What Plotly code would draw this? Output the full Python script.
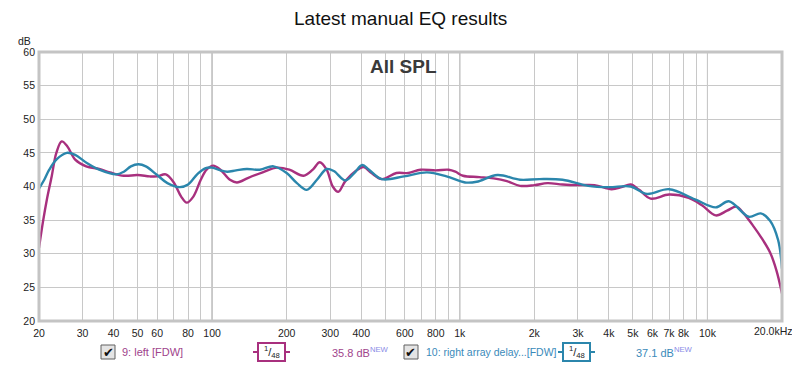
import plotly.graph_objects as go

# ---------------- data ----------------
left_freq = [20, 20.8, 21.5, 22.5, 23.5, 24.7, 26, 28, 31, 35, 38.7, 44, 50, 56, 60, 65, 70, 75, 79, 84,
             90, 95, 101, 108, 118, 126, 140, 160, 183, 205, 234, 255, 272, 290, 307, 323, 345, 380,
             409, 440, 484, 555, 620, 694, 800, 902, 960, 1030, 1200, 1370, 1550, 1750, 2000, 2260,
             2600, 3000, 3500, 4100, 4500, 4900, 5300, 5900, 7000, 8400, 9500, 10800, 12000, 13100,
             14000, 15400, 16500, 17900, 19000, 20000]
left_db = [30.9, 35.0, 38.0, 41.5, 45.0, 46.7, 46.0, 44.0, 43.0, 42.6, 42.1, 41.6, 41.7, 41.5, 41.5, 41.8,
           40.6, 38.5, 37.6, 38.5, 41.0, 42.5, 43.1, 42.5, 41.0, 40.6, 41.3, 42.1, 42.8, 42.5, 41.6, 42.5,
           43.6, 42.5, 40.0, 39.2, 40.8, 42.3, 42.9, 42.0, 41.1, 42.0, 42.0, 42.5, 42.4, 42.5, 42.2, 41.6,
           41.4, 41.2, 40.8, 40.1, 40.2, 40.5, 40.3, 40.2, 40.2, 39.6, 39.9, 40.3, 39.5, 38.2, 38.8, 38.3,
           37.2, 35.7, 36.4, 37.0, 36.0, 34.0, 32.4, 30.2, 27.5, 24.1]

right_freq = [20, 21, 22, 23.5, 25.9, 28, 31.2, 35, 41, 44, 47, 50.4, 54, 60, 66, 74, 80, 87, 93.7, 100,
              108, 115, 125, 138, 156, 177, 200, 220, 241, 265, 290, 310, 345, 375, 404, 430, 484, 595,
              737, 884, 1050, 1170, 1420, 1750, 2100, 2600, 3300, 4000, 4900, 5700, 7000, 8900, 10800,
              12200, 14700, 16400, 17900, 19300, 20000]
right_db = [39.7, 41.0, 42.5, 44.0, 45.0, 44.7, 43.5, 42.5, 41.8, 42.2, 43.0, 43.3, 43.0, 41.7, 40.5, 39.9,
            40.3, 41.8, 42.7, 42.8, 42.4, 42.2, 42.4, 42.6, 42.5, 43.0, 42.0, 40.5, 39.5, 41.0, 42.6, 42.3,
            40.9, 42.0, 43.2, 42.5, 41.1, 41.5, 42.1, 41.5, 40.6, 40.7, 41.7, 41.0, 41.1, 41.0, 40.1, 39.9,
            40.0, 38.9, 39.6, 38.1, 36.9, 37.8, 35.5, 36.0, 34.9, 32.0, 27.8]

x_tickvals = [20, 30, 40, 50, 60, 70, 80, 90, 100, 200, 300, 400, 500, 600, 700, 800, 900,
              1000, 2000, 3000, 4000, 5000, 6000, 7000, 8000, 9000, 10000, 20000]
x_ticktext = ["20", "30", "40", "50", "60", "", "80", "", "100", "200", "300", "400", "", "600", "",
              "800", "", "1k", "2k", "3k", "4k", "5k", "6k", "7k", "8k", "", "10k", ""]
last_tick_label = "20.0kHz"
y_tickvals = [20, 25, 30, 35, 40, 45, 50, 55, 60]
decades = [100, 1000, 10000]

MAG = "#A8307E"
BLU = "#2B86AC"
MAG_T = "#A0448C"
BLU_T = "#3A8ABA"
TICK_FS = 10.5

# ---------------- figure ----------------
OFF = 8  # page body margin
W, H = 800 - OFF, 369 - OFF
PW, PH = 743, 269
L, T = 39 - OFF, 52 - OFF
R, B = W - L - PW, H - T - PH


def px(x):
    return (x - OFF - L) / PW


def py(y):
    return (H - B - (y - OFF)) / PH


fig = go.Figure()
fig.add_trace(go.Scatter(x=left_freq, y=left_db, mode="lines",
                         line=dict(color=MAG, width=2.4, shape="spline", smoothing=1.0),
                         hoverinfo="skip", showlegend=False))
fig.add_trace(go.Scatter(x=right_freq, y=right_db, mode="lines",
                         line=dict(color=BLU, width=2.4, shape="spline", smoothing=1.0),
                         hoverinfo="skip", showlegend=False))

shapes = []
for d in decades:
    shapes.append(dict(type="line", xref="x", yref="paper", x0=d, x1=d, y0=0, y1=1,
                       line=dict(color="#808080", width=1), layer="below"))
# frame
shapes.append(dict(type="rect", xref="paper", yref="paper", x0=0, x1=1, y0=0, y1=1,
                   line=dict(color="#C4C4C4", width=3)))

annotations = [
    dict(text="Latest manual EQ results", xref="paper", yref="paper", x=px(400), y=py(19),
         showarrow=False, font=dict(size=19, color="#111111", family="Liberation Sans, Arial"),
         xanchor="center", yanchor="middle"),
    dict(text="<b>All SPL</b>", xref="paper", yref="paper", x=px(403), y=py(67),
         showarrow=False, font=dict(size=19, color="#3A3A3A", family="Liberation Sans, Arial"),
         xanchor="center", yanchor="middle"),
    dict(text="dB", xref="paper", yref="paper", x=px(33), y=py(41),
         showarrow=False, font=dict(size=TICK_FS, color="#222222", family="Liberation Sans, Arial"),
         xanchor="right", yanchor="middle"),
    dict(text=last_tick_label, xref="paper", yref="paper", x=px(795), y=py(331),
         showarrow=False, font=dict(size=TICK_FS, color="#222222", family="Liberation Sans, Arial"),
         xanchor="right", yanchor="middle"),
]

LY = 352


def legend_item(cb_x, label, label_x, color, tcolor, box_x, val, val_x, fsize=11):
    # checkbox
    shapes.append(dict(type="rect", xref="paper", yref="paper",
                       x0=px(cb_x), x1=px(cb_x + 14), y0=py(LY + 7), y1=py(LY - 7),
                       line=dict(color="#606060", width=1), fillcolor="#E4E4E4"))
    annotations.append(dict(text="✔", xref="paper", yref="paper", x=px(cb_x + 7), y=py(LY),
                            showarrow=False, font=dict(size=13, color="#111111", family="DejaVu Sans"),
                            xanchor="center", yanchor="middle"))
    annotations.append(dict(text=label, xref="paper", yref="paper", x=px(label_x), y=py(LY),
                            showarrow=False, font=dict(size=fsize, color=tcolor, family="Liberation Sans, Arial"),
                            xanchor="left", yanchor="middle"))
    # smoothing box
    shapes.append(dict(type="line", xref="paper", yref="paper", x0=px(box_x - 5), x1=px(box_x),
                       y0=py(LY), y1=py(LY), line=dict(color=color, width=2)))
    shapes.append(dict(type="line", xref="paper", yref="paper", x0=px(box_x + 27), x1=px(box_x + 32),
                       y0=py(LY), y1=py(LY), line=dict(color=color, width=2)))
    shapes.append(dict(type="rect", xref="paper", yref="paper", x0=px(box_x), x1=px(box_x + 27),
                       y0=py(LY + 9), y1=py(LY - 9), line=dict(color=color, width=2),
                       fillcolor="white"))
    annotations.append(dict(text="<sup>1</sup>/<sub>48</sub>", xref="paper", yref="paper",
                            x=px(box_x + 13.5), y=py(LY), showarrow=False,
                            font=dict(size=11, color="#222222", family="Liberation Sans, Arial"),
                            xanchor="center", yanchor="middle"))
    annotations.append(dict(text=val + " dB<sup><span style='color:#8A8AE6'>NEW</span></sup>",
                            xref="paper", yref="paper", x=px(val_x), y=py(LY), showarrow=False,
                            font=dict(size=11, color=tcolor, family="Liberation Sans, Arial"),
                            xanchor="left", yanchor="middle"))


legend_item(101, "9: left [FDW]", 120, MAG, MAG_T, 258, "35.8", 330)
legend_item(404, "10: right array delay...[FDW]", 424, BLU, BLU_T, 563, "37.1", 634, fsize=10.5)

fig.update_layout(
    width=W, height=H,
    margin=dict(l=L, r=R, t=T, b=B, pad=0, autoexpand=False),
    paper_bgcolor="white", plot_bgcolor="white",
    font=dict(family="Liberation Sans, Arial", size=11, color="#222222"),
    shapes=shapes, annotations=annotations,
    xaxis=dict(type="log", range=[1.301, 4.30104], tickvals=x_tickvals, ticktext=x_ticktext,
               showgrid=True, gridcolor="#C8C8C8", gridwidth=1, zeroline=False, showline=False,
               ticks="", tickfont=dict(size=TICK_FS, color="#222222"), automargin=False,
               ticklabelstandoff=4),
    yaxis=dict(range=[20, 60], tickvals=y_tickvals, showgrid=True, gridcolor="#C8C8C8",
               gridwidth=1, zeroline=False, showline=False, ticks="",
               tickfont=dict(size=TICK_FS, color="#222222"), automargin=False,
               ticklabelstandoff=3),
)

fig.write_html("out.html")
